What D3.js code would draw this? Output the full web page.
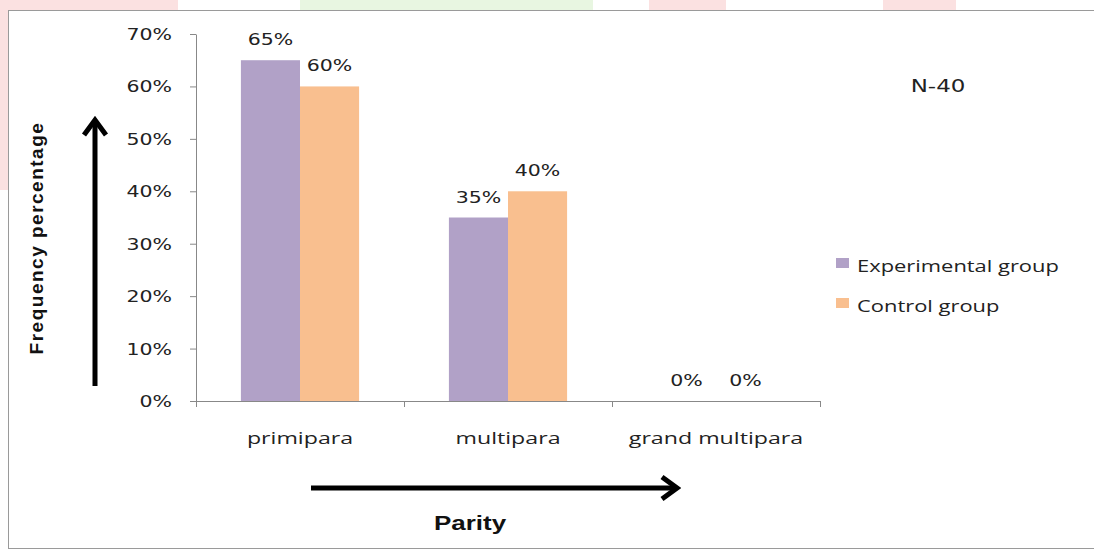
<!DOCTYPE html>
<html>
<head>
<meta charset="utf-8">
<script src="https://cdn.jsdelivr.net/npm/d3@7"></script>
<style>
  body { margin: 0; background: #fff; }
  svg { display: block; }
</style>
</head>
<body>
<svg width="1094" height="558"></svg>
<script>
// data
var categories = ["primipara", "multipara", "grand multipara"];
var seriesNames = ["Experimental group", "Control group"];
var experimental = [65, 35, 0];
var control = [60, 40, 0];
var yTicks = [0, 10, 20, 30, 40, 50, 60, 70];

var colors = ["#b1a1c7", "#f9bf8f"];

var svg = d3.select("svg");

// the source picture is stretched sideways, so text gets a horizontal scale
function wideText(parent, x, y, sx) {
    return parent.append("text")
        .attr("transform", "translate(" + x + "," + y + ") scale(" + sx + ",1)");
}

// faint watermark bits behind the frame
svg.append("rect").attr("x", 0).attr("y", 0).attr("width", 178).attr("height", 10).style("fill", "#fbe1e1");
svg.append("rect").attr("x", 0).attr("y", 0).attr("width", 8).attr("height", 190).style("fill", "#fbe1e1");
svg.append("rect").attr("x", 300).attr("y", 0).attr("width", 293).attr("height", 10).style("fill", "#e8f6e1");
svg.append("rect").attr("x", 649).attr("y", 0).attr("width", 77).attr("height", 10).style("fill", "#fbe1e1");
svg.append("rect").attr("x", 883).attr("y", 0).attr("width", 73).attr("height", 10).style("fill", "#fbe1e1");

// chart frame
svg.append("rect")
    .attr("x", 8.5).attr("y", 10.5)
    .attr("width", 1090).attr("height", 538)
    .style("fill", "#fff")
    .style("stroke", "#9a9a9a");

var plotLeft = 196, plotRight = 820, plotTop = 34, plotBottom = 401;

var x0 = d3.scaleBand().domain(categories).range([plotLeft, plotRight]).paddingInner(0).paddingOuter(0);
var x1 = d3.scaleBand().domain(seriesNames).range([0, x0.bandwidth()]).paddingInner(0).paddingOuter(0.76);
var y = d3.scaleLinear().domain([0, 70]).range([plotBottom, plotTop]);

var g = svg.append("g");

// y axis
var yAxis = g.append("g")
    .attr("transform", "translate(" + plotLeft + ",0)")
    .call(d3.axisLeft(y).tickValues(yTicks).tickSize(6).tickSizeOuter(0).tickFormat(""));
yAxis.selectAll("line, path").style("stroke", "#888");

yTicks.forEach(t => {
    wideText(g, 172, y(t) + 6, 1.28)
        .attr("text-anchor", "end")
        .style("font-family", "DejaVu Sans")
        .style("font-size", "16px")
        .style("fill", "#222")
        .text(t + "%");
});

// x axis (ticks at the category boundaries)
var xAxis = g.append("g")
    .attr("transform", "translate(0," + plotBottom + ")")
    .call(d3.axisBottom(d3.scaleLinear().domain([0, 3]).range([plotLeft, plotRight]))
        .tickValues([0, 1, 2, 3]).tickSize(6).tickSizeOuter(0).tickFormat(""));
xAxis.selectAll("line, path").style("stroke", "#888");

categories.forEach(c => {
    wideText(g, x0(c) + x0.bandwidth() / 2, plotBottom + 43, 1.45)
        .attr("text-anchor", "middle")
        .style("font-family", "Open Sans")
        .style("font-size", "16px")
        .style("fill", "#222")
        .text(c);
});

// bars
var rows = categories.map((c, i) => ({ cat: c, vals: [experimental[i], control[i]] }));
var groups = g.selectAll(".grp")
    .data(rows)
    .enter().append("g")
    .attr("transform", d => "translate(" + x0(d.cat) + ",0)");

groups.selectAll("rect")
    .data(d => d.vals.map((v, j) => ({ name: seriesNames[j], v: v, j: j })))
    .enter().append("rect")
    .attr("x", d => x1(d.name))
    .attr("y", d => y(d.v))
    .attr("width", x1.bandwidth())
    .attr("height", d => plotBottom - y(d.v))
    .style("fill", d => colors[d.j]);

groups.each(function(d) {
    var grp = d3.select(this);
    d.vals.forEach((v, j) => {
        wideText(grp, x1(seriesNames[j]) + x1.bandwidth() / 2, y(v) - 15, 1.28)
            .attr("text-anchor", "middle")
            .style("font-family", "DejaVu Sans")
            .style("font-size", "16px")
            .style("fill", "#222")
            .text(v + "%");
    });
});

// legend
var legend = svg.append("g").attr("transform", "translate(836,258)");
seriesNames.forEach((s, i) => {
    legend.append("rect").attr("x", 0).attr("y", i * 40).attr("width", 13).attr("height", 10).style("fill", colors[i]);
    wideText(legend, 21, i * 40 + 14, 1.37)
        .style("font-family", "Open Sans")
        .style("font-size", "16px")
        .style("fill", "#222")
        .text(s);
});

wideText(svg, 938, 92, 1.35)
    .attr("text-anchor", "middle")
    .style("font-family", "DejaVu Sans")
    .style("font-size", "17px")
    .style("fill", "#222")
    .text("N-40");

// axis titles
svg.append("text")
    .attr("transform", "translate(43,238)rotate(-90)")
    .attr("text-anchor", "middle")
    .style("font-family", "Liberation Sans")
    .style("font-weight", "bold")
    .style("font-size", "19px")
    .style("letter-spacing", "1.5px")
    .style("fill", "#111")
    .text("Frequency percentage");

wideText(svg, 470, 530, 1.3)
    .attr("text-anchor", "middle")
    .style("font-family", "Liberation Sans")
    .style("font-weight", "bold")
    .style("font-size", "20px")
    .style("fill", "#111")
    .text("Parity");

// arrows
var defs = svg.append("defs");
defs.append("marker")
    .attr("id", "head")
    .attr("viewBox", "0 0 22 28")
    .attr("refX", 17).attr("refY", 14)
    .attr("markerWidth", 22).attr("markerHeight", 28)
    .attr("markerUnits", "userSpaceOnUse")
    .attr("orient", "auto")
    .append("path")
    .attr("d", "M3,3 L18,14 L3,25")
    .style("fill", "none")
    .style("stroke", "#000")
    .style("stroke-width", 5);

svg.append("line")
    .attr("x1", 95).attr("y1", 386).attr("x2", 95).attr("y2", 121)
    .style("stroke", "#000").style("stroke-width", 5)
    .attr("marker-end", "url(#head)");

svg.append("line")
    .attr("x1", 311).attr("y1", 488).attr("x2", 676).attr("y2", 488)
    .style("stroke", "#000").style("stroke-width", 5)
    .attr("marker-end", "url(#head)");
</script>
</body>
</html>
